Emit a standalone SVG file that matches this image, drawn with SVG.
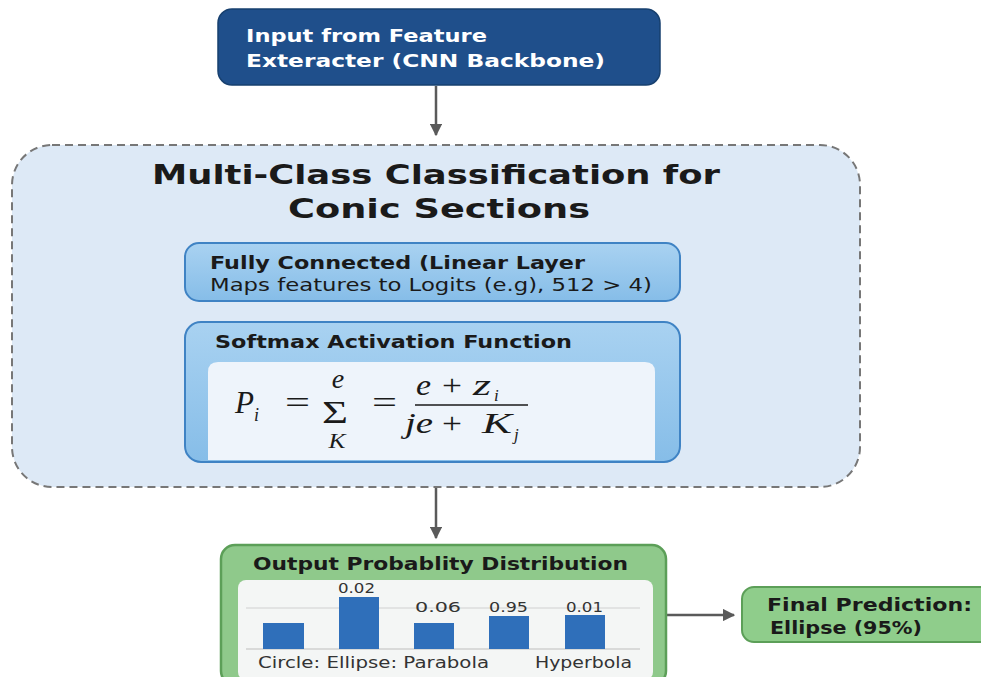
<svg xmlns="http://www.w3.org/2000/svg" width="981" height="677" viewBox="0 0 981 677">
<style>
.sans{font-family:"DejaVu Sans","Liberation Sans",Arial,sans-serif}
.b{font-weight:bold}
.serif{font-family:"Liberation Serif","Times New Roman",serif}
.it{font-style:italic}
.conn{stroke:#5a5a5a;stroke-width:2.5;fill:none}
</style>
<defs>
<marker id="ah" viewBox="0 0 10 10" refX="9" refY="5" markerWidth="5" markerHeight="5" orient="auto" markerUnits="strokeWidth">
<path d="M0,0 L10,5 L0,10 z" fill="#5a5a5a"/>
</marker>
<linearGradient id="blueg" x1="0" y1="0" x2="0" y2="1">
<stop offset="0" stop-color="#a9d2f1"/>
<stop offset="1" stop-color="#86bde8"/>
</linearGradient>
</defs>
<rect width="981" height="677" fill="#ffffff"/>

<g id="connectors">
<line class="conn" x1="436" y1="86" x2="436" y2="135" marker-end="url(#ah)"/>
<line class="conn" x1="436" y1="488" x2="436" y2="538" marker-end="url(#ah)"/>
<line class="conn" x1="667" y1="615" x2="734" y2="615" marker-end="url(#ah)"/>
</g>

<g id="input">
<rect x="218" y="9" width="442" height="76" rx="14" fill="#1f4f8b" stroke="#17406f" stroke-width="1.5"/>
<text class="sans b" x="246" y="42" font-size="17" fill="#ffffff" textLength="241" lengthAdjust="spacingAndGlyphs">Input from Feature</text>
<text class="sans b" x="246" y="67" font-size="17" fill="#ffffff" textLength="359" lengthAdjust="spacingAndGlyphs">Exteracter (CNN Backbone)</text>
</g>

<g id="classifier">
<rect x="12" y="145" width="848" height="342" rx="40" fill="#dde9f6" stroke="#777777" stroke-width="2" stroke-dasharray="8,5"/>
<text class="sans b" x="436" y="184" font-size="26" fill="#1a1a1a" text-anchor="middle" textLength="568" lengthAdjust="spacingAndGlyphs">Multi-Class Classification for</text>
<text class="sans b" x="439" y="218" font-size="26" fill="#1a1a1a" text-anchor="middle" textLength="302" lengthAdjust="spacingAndGlyphs">Conic Sections</text>
</g>

<g id="fc">
<rect x="185" y="243" width="495" height="58" rx="14" fill="url(#blueg)" stroke="#3f83c4" stroke-width="2"/>
<text class="sans b" x="210" y="269" font-size="17" fill="#1a1a1a" textLength="375" lengthAdjust="spacingAndGlyphs">Fully Connected (Linear Layer</text>
<text class="sans" x="210" y="291" font-size="17" fill="#1a1a1a" textLength="442" lengthAdjust="spacingAndGlyphs">Maps features to Logits (e.g), 512 &gt; 4)</text>
</g>

<g id="softmax">
<rect x="185" y="322" width="495" height="140" rx="16" fill="url(#blueg)" stroke="#3f83c4" stroke-width="2"/>
<text class="sans b" x="215" y="348" font-size="17" fill="#1a1a1a" textLength="357" lengthAdjust="spacingAndGlyphs">Softmax Activation Function</text>
<path d="M208,460 L208,372 Q208,362 218,362 L645,362 Q655,362 655,372 L655,460 Z" fill="#eef4fb"/>
<g class="serif" fill="#1a1a1a">
<text class="it" x="235" y="413" font-size="31" textLength="19" lengthAdjust="spacingAndGlyphs">P</text>
<text class="it" x="254" y="421" font-size="18">i</text>
<text x="285" y="413" font-size="32" textLength="25" lengthAdjust="spacingAndGlyphs">=</text>
<text x="322" y="423" font-size="31" textLength="26" lengthAdjust="spacingAndGlyphs">Σ</text>
<text class="it" x="338" y="388" font-size="28" text-anchor="middle">e</text>
<text class="it" x="337" y="448" font-size="21" text-anchor="middle" textLength="17" lengthAdjust="spacingAndGlyphs">K</text>
<text x="372" y="413" font-size="32" textLength="25" lengthAdjust="spacingAndGlyphs">=</text>
<text class="it" x="416" y="395" font-size="29" textLength="15" lengthAdjust="spacingAndGlyphs">e</text>
<text x="442" y="395" font-size="29" textLength="20" lengthAdjust="spacingAndGlyphs">+</text>
<text class="it" x="473" y="395" font-size="29" textLength="18" lengthAdjust="spacingAndGlyphs">z</text>
<text class="it" x="494" y="401" font-size="17">i</text>
<line x1="415" y1="405" x2="528" y2="405" stroke="#1a1a1a" stroke-width="1.5"/>
<text class="it" x="405" y="433" font-size="29" textLength="28" lengthAdjust="spacingAndGlyphs">je</text>
<text x="442" y="433" font-size="29" textLength="20" lengthAdjust="spacingAndGlyphs">+</text>
<text class="it" x="482" y="433" font-size="30" textLength="30" lengthAdjust="spacingAndGlyphs">K</text>
<text class="it" x="514" y="440" font-size="17">j</text>
</g>
</g>

<g id="output">
<rect x="221" y="545" width="445" height="140" rx="14" fill="#8fc98b" stroke="#5c9f58" stroke-width="2.5"/>
<text class="sans b" x="253" y="570" font-size="17" fill="#1a1a1a" textLength="375" lengthAdjust="spacingAndGlyphs">Output Probablity Distribution</text>
<rect x="238" y="580" width="415" height="100" rx="8" fill="#f4f6f5"/>
<line x1="246" y1="608" x2="640" y2="608" stroke="#d0d0d0" stroke-width="1"/>
<line x1="246" y1="649" x2="640" y2="649" stroke="#bdbdbd" stroke-width="1.2"/>
<g fill="#2f6fba">
<rect x="263" y="623" width="41" height="26"/>
<rect x="339" y="597" width="40" height="52"/>
<rect x="414" y="623" width="40" height="26"/>
<rect x="489" y="616" width="40" height="33"/>
<rect x="565" y="615" width="40" height="34"/>
</g>
<g class="sans" font-size="14" fill="#333333">
<text x="338" y="593" textLength="37" lengthAdjust="spacingAndGlyphs">0.02</text>
<text x="415" y="612" textLength="46" lengthAdjust="spacingAndGlyphs">0.06</text>
<text x="489" y="612" textLength="39" lengthAdjust="spacingAndGlyphs">0.95</text>
<text x="566" y="612" textLength="37" lengthAdjust="spacingAndGlyphs">0.01</text>
</g>
<text class="sans" x="258" y="668" font-size="15" fill="#333333" textLength="231" lengthAdjust="spacingAndGlyphs">Circle: Ellipse: Parabola</text>
<text class="sans" x="535" y="668" font-size="15" fill="#333333" textLength="97" lengthAdjust="spacingAndGlyphs">Hyperbola</text>
</g>

<g id="final">
<rect x="742" y="587" width="250" height="55" rx="12" fill="#8fcd8b" stroke="#5c9f58" stroke-width="2"/>
<text class="sans b" x="767" y="611" font-size="17" fill="#1a1a1a" textLength="205" lengthAdjust="spacingAndGlyphs">Final Prediction:</text>
<text class="sans b" x="770" y="634" font-size="17" fill="#1a1a1a" textLength="152" lengthAdjust="spacingAndGlyphs">Ellipse (95%)</text>
</g>
</svg>
